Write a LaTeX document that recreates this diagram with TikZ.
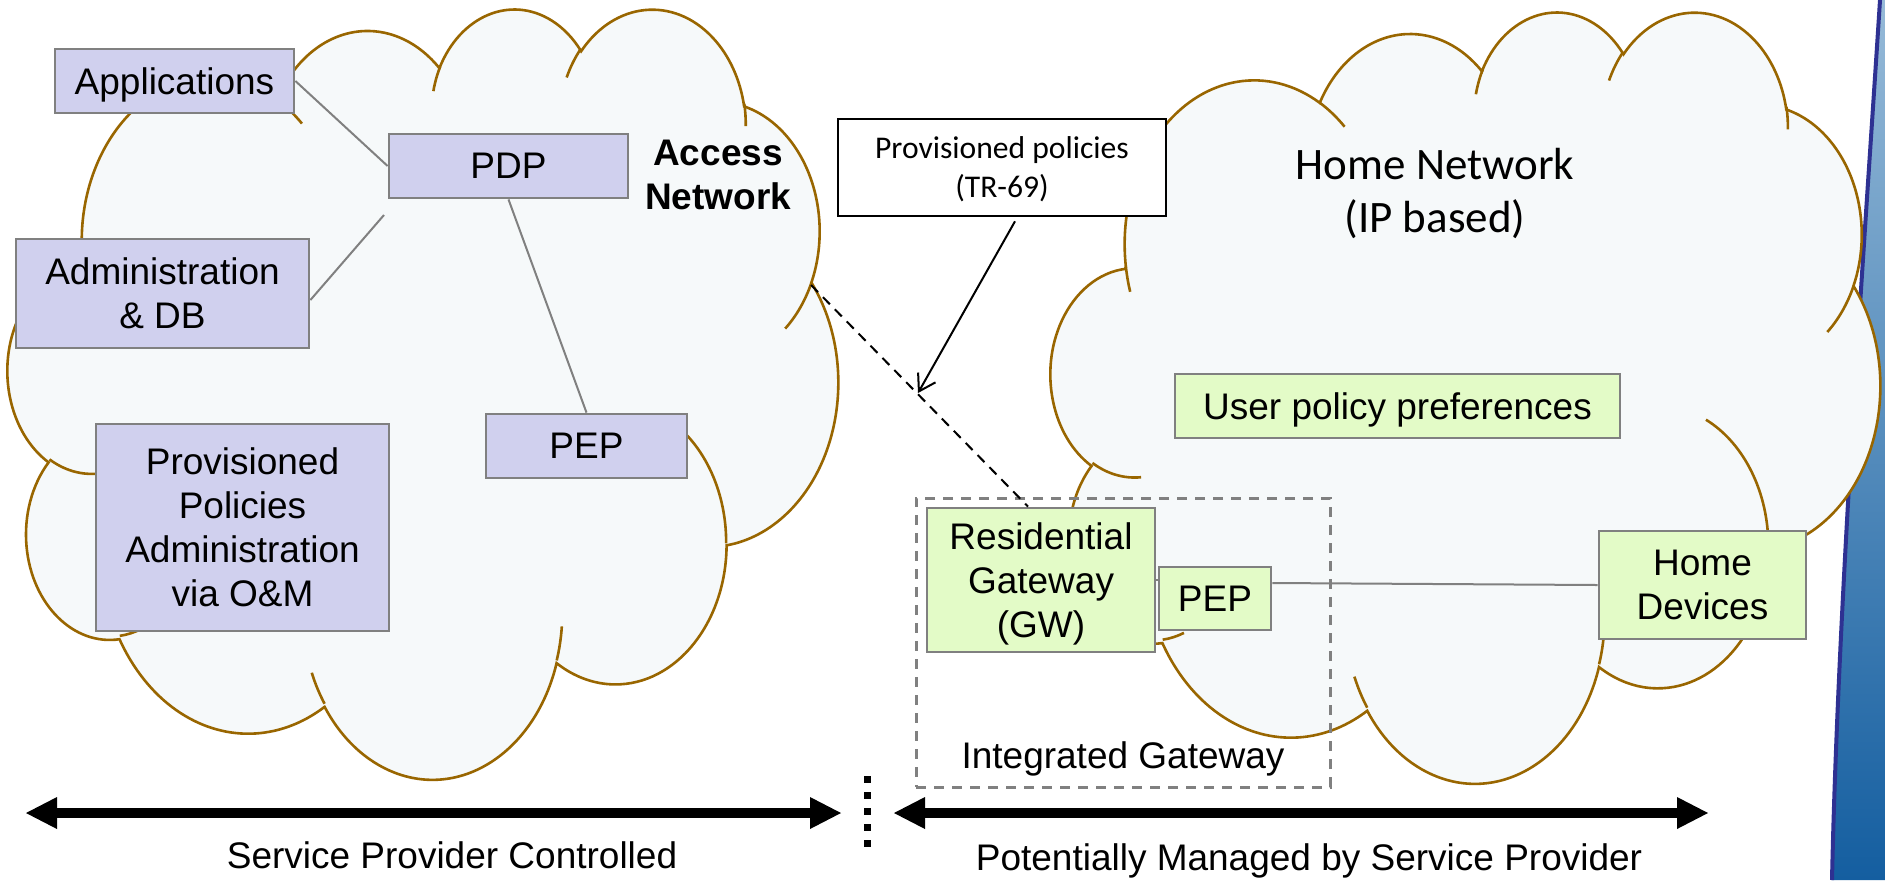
\documentclass[tikz,border=0pt]{standalone}
\usepackage{fontspec}
\setmainfont{Liberation Sans}
\newfontfamily\calibri{Carlito}
\usetikzlibrary{arrows.meta,calc}
\definecolor{cloudfill}{RGB}{246,249,250}
\definecolor{cloudline}{RGB}{153,102,0}
\definecolor{pfill}{RGB}{208,208,238}
\definecolor{gfill}{RGB}{227,251,199}
\definecolor{bordergray}{RGB}{128,128,128}
\definecolor{barline}{RGB}{46,49,146}
\definecolor{bartop}{RGB}{150,186,216}
\definecolor{barbot}{RGB}{20,94,160}
\newcommand\boxfont{\fontsize{18.5pt}{22pt}\selectfont}
\newcommand\ooarc[4]{\pgfextra{\pgfmathsetmacro\ooS{ooa(#3,#1,#2)}\pgfmathsetmacro\ooE{ooa(#3+#4,#1,#2)}\global\let\gooS\ooS\global\let\gooE\ooE} arc[x radius=#1pt, y radius=#2pt, start angle=\gooS, end angle=\gooE]}
\newcommand\oocloud{%
  \path[cloudst] (39pt,143.70pt)
   \ooarc{67.53}{91.90}{-190.4875}{123.7805}
   \ooarc{53.33}{72.67}{-144.1024}{89.9452}
   \ooarc{43.65}{59.45}{-145.8079}{99.7230}
   \ooarc{48.57}{65.95}{-130.9861}{117.2417}
   \ooarc{53.33}{72.73}{-78.7089}{109.0269}
   \ooarc{67.75}{92.20}{-46.2673}{130.2690}
   \ooarc{57.85}{78.67}{0.6250}{114.0333}
   \ooarc{67.52}{92.15}{22.4516}{115.1726}
   \ooarc{77.20}{105.43}{66.2426}{75.7110}
   \ooarc{43.60}{59.18}{-274.9421}{146.7356}
   \ooarc{43.45}{59.45}{-246.8285}{152.5189}
   -- cycle;
  \path[innerst]
   (46.93pt,261.77pt) \ooarc{43.45}{59.45}{86.742}{26.430}
   (69.28pt,348.99pt) \ooarc{43.60}{59.18}{73.610}{11.447}
   (164.78pt,390.90pt) \ooarc{67.52}{92.15}{137.624}{14.081}
   (288.27pt,347.51pt) \ooarc{67.52}{92.15}{6.453}{15.998}
   (341.29pt,229.54pt) \ooarc{57.85}{78.67}{-70.292}{70.917}
   (418.20pt,154.62pt) \ooarc{53.33}{72.73}{30.318}{26.7}
   (383.24pt,54.26pt) \ooarc{48.57}{65.95}{-13.744}{14.855}
   (290.78pt,39.52pt) \ooarc{48.57}{65.95}{-149.181}{18.200}
   (221.41pt,47.20pt) \ooarc{43.65}{59.45}{-163.494}{17.688}
   (140.00pt,51.92pt) \ooarc{67.53}{91.90}{-66.707}{12.319}
   (41.27pt,157.89pt) \ooarc{67.53}{91.90}{157.654}{11.858};
}
\begin{document}
\begin{tikzpicture}[x=0.5pt, y=-0.5pt,
  declare function={ooa(\oth,\ora,\orb)=atan2(\ora*sin(\oth),\orb*cos(\oth))+360*round((\oth-atan2(\ora*sin(\oth),\orb*cos(\oth)))/360);},
  cloudst/.style={draw=cloudline, fill=cloudfill, line width=1.3pt},
  innerst/.style={draw=cloudline, line width=1.3pt},
  pbox/.style={draw=bordergray, fill=pfill, line width=1.4pt, inner sep=0pt, align=center, font=\boxfont, text depth=0pt},
  gbox/.style={draw=bordergray, fill=gfill, line width=1.4pt, inner sep=0pt, align=center, font=\boxfont, text depth=0pt},
  conn/.style={draw=bordergray, line width=1pt},
  lbl/.style={inner sep=0pt, align=center, font=\boxfont, text depth=0pt},
  bigarrow/.style={line width=5pt, {Triangle[length=15.5pt,width=16pt,line width=0pt]}-{Triangle[length=15.5pt,width=16pt,line width=0pt]}}
]
\useasboundingbox (0,0) rectangle (1885,880);
\fill[white] (0,0) rectangle (1885,880);
% blue bar
\shade[top color=bartop, bottom color=barbot] (1880,0) .. controls (1866,220) and (1838,600) .. (1832,880) -- (1885,880) -- (1885,0) -- cycle;
\draw[barline, line width=2pt] (1880,0) .. controls (1866,220) and (1838,600) .. (1832,880);
% clouds
\begin{scope}[shift={(1051,10)}, xscale=0.9595, yscale=-0.8924]
\oocloud
\end{scope}
\begin{scope}[shift={(8,7)}, xscale=0.9606, yscale=-0.8912]
\oocloud
\end{scope}
% integrated gateway
\node[draw=bordergray, line width=1.5pt, dash pattern=on 5pt off 4pt, minimum width=207pt, minimum height=144.5pt, inner sep=0pt] (ig) at (1123,642.5) {};
\node[lbl] (igl) at (1123,755) {Integrated Gateway};
% boxes
\node[pbox, minimum width=119.5pt, minimum height=32pt] (app) at (174.5,81) {Applications};
\node[pbox, minimum width=119.5pt, minimum height=32pt] (pdp) at (508.5,166) {PDP};
\node[pbox, minimum width=146.5pt, minimum height=54.5pt] (adm) at (162.5,293.5) {Administration\\\& DB};
\node[pbox, minimum width=100.5pt, minimum height=32pt] (pepl) at (586.5,446) {PEP};
\node[pbox, minimum width=146.5pt, minimum height=103.5pt] (prov) at (242.5,527.5) {Provisioned\\Policies\\Administration\\via O\&M};
\node[lbl, font=\boxfont\bfseries] (acc) at (718,175) {Access\\Network};
\node[draw=black, fill=white, line width=1.3pt, minimum width=164pt, minimum height=48.5pt, inner sep=0pt, align=center, text depth=0pt, font=\calibri\fontsize{15.8pt}{19.5pt}\selectfont] (tr) at (1002,167.5) {Provisioned policies\\(TR-69)};
\node[inner sep=0pt, align=center, text depth=0pt, font=\calibri\fontsize{22.5pt}{26.5pt}\selectfont] (home) at (1435,190) {Home Network\\(IP based)};
\node[gbox, minimum width=222.5pt, minimum height=32pt] (upp) at (1397.5,406) {User policy preferences};
\node[gbox, minimum width=114pt, minimum height=72pt] (rg) at (1041,580) {Residential\\Gateway\\(GW)};
\node[gbox, minimum width=56pt, minimum height=31.5pt] (pepr) at (1215,598.5) {PEP};
\node[gbox, minimum width=103.5pt, minimum height=54pt] (hd) at (1702.5,585) {Home\\Devices};
% connectors
\coordinate (admend) at (384,215);
\draw[conn] (app.east) -- (pdp.west);
\draw[conn] ([yshift=-3.25pt]adm.east) -- (admend);
\draw[conn] (pdp.south) -- (pepl.north);
\draw[conn] ([yshift=7.75pt]pepr.east) -- (hd.west);
\draw[conn] (rg.east) -- (rg.east -| pepr.west);
\coordinate (dstart) at (811,285);
\draw[black, line width=1pt, dash pattern=on 5pt off 3.5pt] (dstart) -- ([xshift=-6.5pt]rg.north);
\coordinate (arrtip) at (918,393);
\draw[black, line width=1pt, -{Straight Barb[length=8pt,width=10pt]}] ([xshift=6.5pt,yshift=-2pt]tr.south) -- (arrtip);
% bottom arrows
\coordinate (l1) at (26,813);
\coordinate (l2) at (841,813);
\coordinate (r1) at (894,813);
\coordinate (r2) at (1708,813);
\draw[bigarrow] (l1) -- (l2);
\draw[bigarrow] (r1) -- (r2);
\draw[line width=3.5pt, dash pattern=on 3.5pt off 4.5pt] (867,776) -- (867,848);
\node[lbl] (spc) at (452,855) {Service Provider Controlled};
\node[lbl] (pms) at (1309,857) {Potentially Managed by Service Provider};
\end{tikzpicture}
\end{document}
